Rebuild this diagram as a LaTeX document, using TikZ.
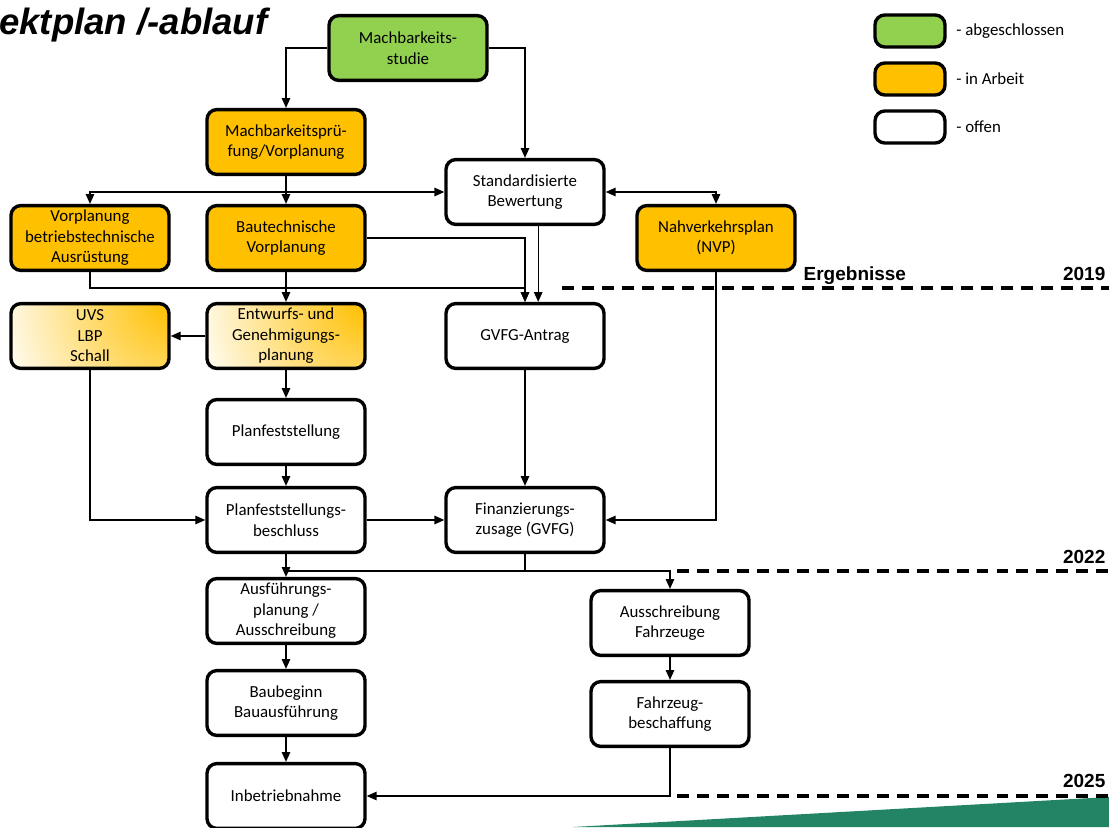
\documentclass[tikz,border=0pt]{standalone}
\usepackage{fontspec}
\setmainfont{Carlito}
\newfontfamily\headfont{Liberation Sans}
\usetikzlibrary{arrows.meta}
\definecolor{donegreen}{RGB}{146,208,80}
\definecolor{workorange}{RGB}{255,192,0}
\definecolor{hillgreen}{RGB}{34,132,100}

\begin{document}
\begin{tikzpicture}[x=0.025cm, y=-0.025cm,
    >={Triangle[length=7pt,width=6pt]},
    every node/.style={font=\fontsize{12}{14.6}\selectfont},
    box/.style={draw, line width=2.4pt, rounded corners=7pt, align=center,
        minimum width=3.95cm, minimum height=1.62cm, inner sep=2pt},
    openbox/.style={box, fill=white},
    donebox/.style={box, fill=donegreen},
    workbox/.style={box, fill=workorange},
    halfbox/.style={box, fill=white, path picture={
        \shade[inner color=workorange, outer color=white] (path picture bounding box.north east) circle (4.5cm);}},
    legbox/.style={minimum width=1.75cm, minimum height=0.8cm},
    link/.style={->, line width=1pt},
    year/.style={font=\headfont\bfseries\fontsize{13.5}{16}\selectfont, anchor=base east, inner sep=1pt},
    period/.style={line width=2.4pt, dash pattern=on 8.5pt off 5.7pt}]

    \useasboundingbox (0,0) rectangle (1109,827);

    \fill[hillgreen] (573,827) -- (1109,797) -- (1109,827) -- cycle;

    \node[anchor=base west, inner sep=0pt, font=\headfont\bfseries\itshape\fontsize{26}{30}\selectfont] (title) at (-1,35) {ektplan /-ablauf};

    \node[donebox] (studie) at (408,48) {Machbarkeits-\\studie};
    \node[workbox] (pruefung) at (286,142) {Machbarkeitsprü-\\fung/Vorplanung};
    \node[openbox] (bewertung) at (525,192) {Standardisierte\\Bewertung};
    \node[workbox] (betrieb) at (90,238) {Vorplanung\\betriebstechnische\\Ausrüstung};
    \node[workbox] (bautech) at (286,238) {Bautechnische\\Vorplanung};
    \node[workbox] (nvp) at (716,238) {Nahverkehrsplan\\(NVP)};
    \node[halfbox] (uvs) at (90,336) {UVS\\LBP\\Schall};
    \node[halfbox] (entwurf) at (286,336) {Entwurfs- und\\Genehmigungs-\\planung};
    \node[openbox] (antrag) at (525,336) {GVFG-Antrag};
    \node[openbox] (planf) at (286,432) {Planfeststellung};
    \node[openbox] (beschluss) at (286,520) {Planfeststellungs-\\beschluss};
    \node[openbox] (zusage) at (525,520) {Finanzierungs-\\zusage (GVFG)};
    \node[openbox] (ausf) at (286,611) {Ausführungs-\\planung /\\Ausschreibung};
    \node[openbox] (fzausschr) at (670,623) {Ausschreibung\\Fahrzeuge};
    \node[openbox] (bau) at (286,703) {Baubeginn\\Bauausführung};
    \node[openbox] (fzbeschaff) at (670,714) {Fahrzeug-\\beschaffung};
    \node[openbox] (inbetrieb) at (286,796) {Inbetriebnahme};

    \node[donebox, legbox] (legdone) at (910,31) {};
    \node[workbox, legbox] (legwork) at (910,79) {};
    \node[openbox, legbox] (legopen) at (910,127) {};
    \node[anchor=west, inner sep=0pt] (txtdone) at (956,31) {- abgeschlossen};
    \node[anchor=west, inner sep=0pt] (txtwork) at (956,79) {- in Arbeit};
    \node[anchor=west, inner sep=0pt] (txtopen) at (956,127) {- offen};

    \coordinate (split) at (286,192);
    \coordinate (merge) at (90,288);
    \coordinate (fork) at (525,571);
    \coordinate (joint) at (286,571);

    \draw[link] (studie.west) -| (pruefung.north);
    \draw[link] (studie.east) -| (bewertung.north);
    \draw[link] (pruefung.south) -- (bautech.north);
    \draw[link] (split) -| (betrieb.north);
    \draw[link] (split) -- (bewertung.west);
    \draw[<->, line width=1pt] (bewertung.east) -| (nvp.north);
    \draw[link] (bautech.east) -| (antrag.north);
    \draw[link] ([xshift=0.33cm]bewertung.south) -- ([xshift=0.33cm]antrag.north);
    \draw[link] (betrieb.south) -- (merge) -| (antrag.north);
    \draw[link] (bautech.south) -- (entwurf.north);
    \draw[link] (nvp.south) |- (zusage.east);
    \draw[link] (entwurf.west) -- (uvs.east);
    \draw[link] (entwurf.south) -- (planf.north);
    \draw[link] (planf.south) -- (beschluss.north);
    \draw[link] (uvs.south) |- (beschluss.west);
    \draw[link] (beschluss.east) -- (zusage.west);
    \draw[link] (antrag.south) -- (zusage.north);
    \draw[link] (beschluss.south) -- (ausf.north);
    \draw[line width=1pt] (zusage.south) -- (fork) -- (joint);
    \draw[link] (fork) -| (fzausschr.north);
    \draw[link] (ausf.south) -- (bau.north);
    \draw[link] (bau.south) -- (inbetrieb.north);
    \draw[link] (fzausschr.south) -- (fzbeschaff.north);
    \draw[link] (fzbeschaff.south) |- (inbetrieb.east);

    \coordinate (p19a) at (562,288);
    \coordinate (p19b) at (1109,288);
    \coordinate (p22a) at (677,571);
    \coordinate (p22b) at (1109,571);
    \coordinate (p25a) at (677,796);
    \coordinate (p25b) at (1109,796);
    \draw[period, black!20, yshift=-0.09cm] (p19a) -- (p19b) (p22a) -- (p22b) (p25a) -- (p25b);
    \draw[period] (p19a) -- (p19b) (p22a) -- (p22b) (p25a) -- (p25b);

    \node[year, anchor=base west] (ergebnisse) at (802,280) {Ergebnisse};
    \node[year] (y2019) at (1107,280) {2019};
    \node[year] (y2022) at (1107,563) {2022};
    \node[year] (y2025) at (1107,787) {2025};
\end{tikzpicture}
\end{document}
